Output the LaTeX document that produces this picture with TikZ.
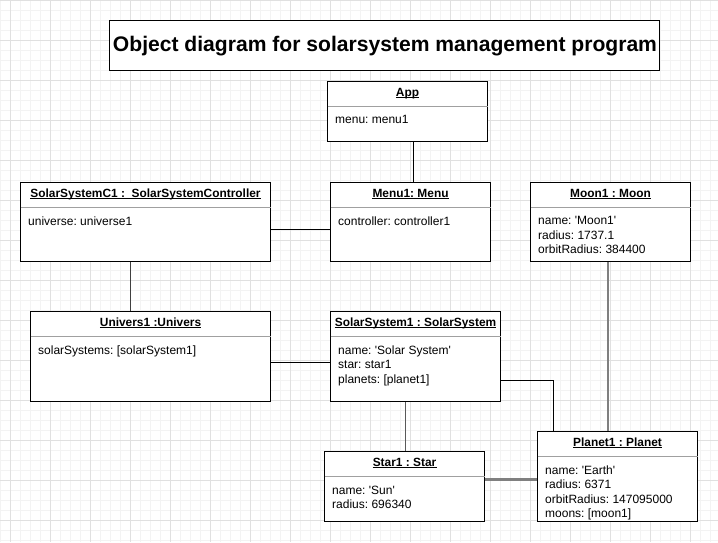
\documentclass[tikz,border=0pt]{standalone}
\usepackage{fontspec}
\setmainfont{Liberation Sans}
\frenchspacing
\definecolor{gridminor}{HTML}{F3F3F3}
\definecolor{gridmajor}{HTML}{E0E0E0}
\definecolor{sepgray}{HTML}{A0A0A0}
\definecolor{linkgray}{HTML}{808080}
\newcommand\sq{\textquotesingle}
\tikzset{
  objbox/.style={draw=black, line width=1.1pt, fill=white, inner sep=0pt},
  objtitle/.style={font=\bfseries\fontsize{11.9}{14}\selectfont, inner sep=0pt},
  objbody/.style={font=\fontsize{12}{14.5}\selectfont, inner sep=0pt, align=left},
  sepline/.style={draw=sepgray, line width=1pt},
  link/.style={draw=black, line width=1pt},
  graylink/.style={draw=linkgray, line width=2pt},
}
\newcommand\umlobj[7]{%
  \node[objbox, minimum width=#4pt, minimum height=#5pt, anchor=north west] (#1) at (#2,#3) {};
  \node[objtitle, anchor=base] (#1-t) at ([yshift=-15pt]#1.north) {#6};
  \draw[black, line width=0.9pt] ([yshift=-1.6pt]#1-t.base west) -- ([yshift=-1.6pt]#1-t.base east);
  \draw[sepline] ([yshift=-25pt,xshift=0.6pt]#1.north west) -- ([yshift=-25pt,xshift=-0.6pt]#1.north east);
  \node[objbody, anchor=north west] (#1-b) at ([xshift=8pt,yshift=-34.5pt]#1.north west) {#7};
}
\begin{document}
\begin{tikzpicture}[x=1pt,y=-1pt]
\useasboundingbox (0,0) rectangle (718,542);
\fill[white] (0,0) rectangle (718,542);
% grid
\foreach \gx in {0,10,...,710} \draw[gridminor, line width=0.8pt] (\gx,0) -- (\gx,542);
\foreach \gy in {0,10,...,540} \draw[gridminor, line width=0.8pt] (0,\gy) -- (718,\gy);
\foreach \gx in {10,50,...,690} \draw[gridmajor, line width=1pt] (\gx,0) -- (\gx,542);
\foreach \gy in {0,40,...,520} \draw[gridmajor, line width=1pt] (0,\gy) -- (718,\gy);
% title
\node[draw=black, line width=1pt, fill=white, minimum width=550pt, minimum height=50pt, inner sep=0pt, anchor=north west] (title) at (109,20) {};
\node[font=\bfseries\fontsize{21.1}{24}\selectfont, inner sep=0pt] (titletext) at ([yshift=-1pt,xshift=0.5pt]title.center) {Object diagram for solarsystem management program};
% objects
\umlobj{app}{327}{81}{160}{60}{App}{menu: menu1}
\umlobj{menu}{330}{182}{160}{79}{Menu1: Menu}{controller: controller1}
\umlobj{ctrl}{20}{182}{250}{79}{SolarSystemC1 :\ \ SolarSystemController}{universe: universe1}
\umlobj{moon}{530}{182}{160}{79}{Moon1 : Moon}{name: \sq Moon1\sq\\radius: 1737.1\\orbitRadius: 384400}
\umlobj{univ}{30}{311}{240}{90}{Univers1 :Univers}{solarSystems: [solarSystem1]}
\umlobj{ss}{330}{311}{170}{90}{SolarSystem1 : SolarSystem}{name: \sq Solar System\sq\\star: star1\\planets: [planet1]}
\umlobj{star}{324}{451}{160}{70}{Star1 : Star}{name: \sq Sun\sq\\radius: 696340}
\umlobj{planet}{537}{431}{160}{90}{Planet1 : Planet}{name: \sq Earth\sq\\radius: 6371\\orbitRadius: 147095000\\moons: [moon1]}
% connectors
\draw[link] ([xshift=6pt]app.south) -- ([xshift=3pt]menu.north);
\draw[link] ([yshift=-7.5pt]ctrl.east) -- ([yshift=-7.5pt]menu.west);
\draw[link, draw=black!75] ([xshift=-15pt]ctrl.south) -- ([xshift=-20pt]univ.north);
\draw[link] ([yshift=-6pt]univ.east) -- ([yshift=-6pt]ss.west);
\draw[link, draw=black!65, line width=1.5pt] ([xshift=-10pt]ss.south) -- ([xshift=1pt]star.north);
\draw[link] ([yshift=-24pt]ss.east) -| ([xshift=-64pt]planet.north);
\draw[graylink] ([xshift=-3pt]moon.south) -- ([xshift=-10pt]planet.north);
\draw[graylink, line width=2.5pt] ([yshift=7pt]star.east) -- ([yshift=-3pt]planet.west);
\end{tikzpicture}
\end{document}
